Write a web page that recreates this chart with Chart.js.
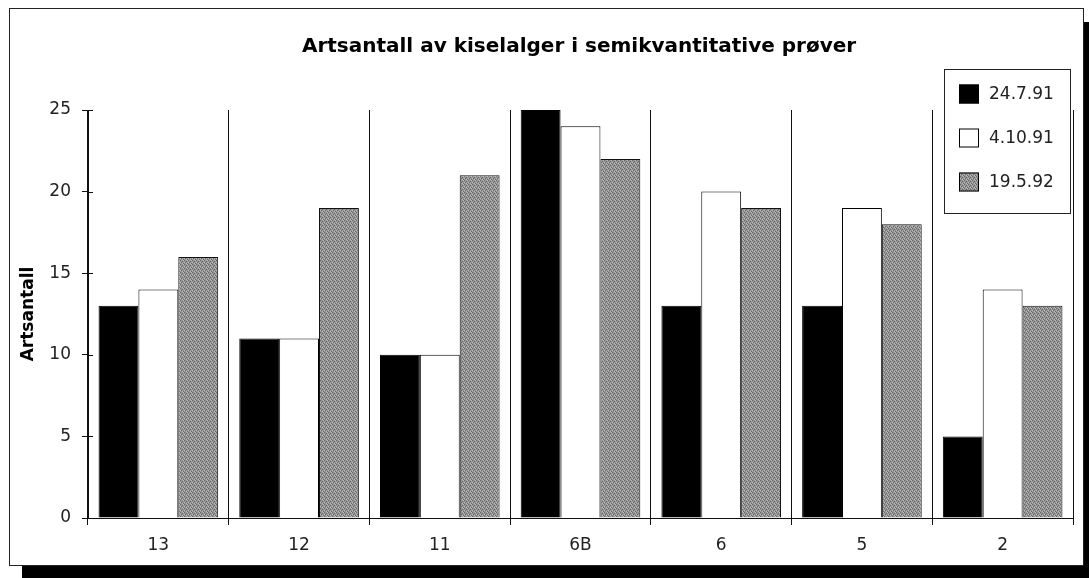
<!DOCTYPE html>
<html>
<head>
<meta charset="utf-8">
<script src="https://cdn.jsdelivr.net/npm/chart.js@4/dist/chart.umd.min.js"></script>
<style>
body { margin: 0; background: #fff; }
#ramme { position: absolute; left: 9px; top: 8px; width: 1075px; height: 558px; box-sizing: border-box; border: 1px solid #222; box-shadow: 13px 14px 0 #000; }
#graf { position: absolute; left: 0; top: 0; }
</style>
</head>
<body>
<div id="ramme"></div>
<canvas id="graf" width="1089" height="578"></canvas>
<script>
const tittel = 'Artsantall av kiselalger i semikvantitative prøver';
const stasjoner = ['13', '12', '11', '6B', '6', '5', '2'];
const datoer = ['24.7.91', '4.10.91', '19.5.92'];
const verdier1 = [13, 11, 10, 25, 13, 13, 5];
const verdier2 = [14, 11, 10, 24, 20, 19, 14];
const verdier3 = [16, 19, 21, 22, 19, 18, 13];
const yTicks = [0, 5, 10, 15, 20, 25];

// grå prikkete fyll, fast mønster
function lagMonster() {
    const p = document.createElement('canvas');
    p.width = 4; p.height = 4;
    const pc = p.getContext('2d');
    pc.fillStyle = '#979797';
    pc.fillRect(0, 0, 4, 4);
    pc.fillStyle = '#666';
    [[0, 0], [2, 1], [1, 2], [3, 3]].forEach(([x, y]) => pc.fillRect(x, y, 1, 1));
    pc.fillStyle = '#bdbdbd';
    [[2, 3], [0, 2], [3, 0]].forEach(([x, y]) => pc.fillRect(x, y, 1, 1));
    return document.getElementById('graf').getContext('2d').createPattern(p, 'repeat');
}
const gra = lagMonster();

const tegnEkstra = {
    id: 'tegnEkstra',
    afterDraw(chart) {
        const c = chart.ctx;
        const y = chart.scales.y;
        c.save();
        // små tikk innenfor aksen
        c.strokeStyle = '#111';
        c.lineWidth = 1;
        y.ticks.forEach(t => {
            const py = Math.round(y.getPixelForValue(t.value)) + 0.5;
            c.beginPath();
            c.moveTo(y.right, py);
            c.lineTo(y.right + 5, py);
            c.stroke();
        });
        // tittel
        c.fillStyle = '#000';
        c.font = 'bold 20px "DejaVu Sans"';
        c.textAlign = 'center';
        c.textBaseline = 'middle';
        c.fillText(tittel, 579, 47);
        // forklaring
        c.fillStyle = '#fff';
        c.fillRect(944, 69, 126, 144);
        c.strokeStyle = '#222';
        c.strokeRect(944.5, 69.5, 126, 144);
        c.font = '17px "DejaVu Sans"';
        c.textAlign = 'left';
        const rader = [94, 138, 182];
        chart.data.datasets.forEach((ds, i) => {
            c.fillStyle = ds.backgroundColor;
            c.fillRect(959, rader[i] - 9.5, 20, 19);
            c.strokeStyle = '#000';
            c.strokeRect(959.5, rader[i] - 9, 19, 18);
            c.fillStyle = '#222';
            c.fillText(ds.label, 989, rader[i] + 1);
        });
        c.restore();
    }
};

new Chart(document.getElementById('graf'), {
    type: 'bar',
    data: {
        labels: stasjoner,
        datasets: [
            { label: datoer[0], data: verdier1, backgroundColor: '#000', borderColor: '#000', borderWidth: 1 },
            { label: datoer[1], data: verdier2, backgroundColor: '#fff', borderColor: '#000', borderWidth: 1 },
            { label: datoer[2], data: verdier3, backgroundColor: gra, borderColor: '#111', borderWidth: 1 }
        ]
    },
    options: {
        responsive: false,
        animation: false,
        layout: { padding: { top: 110, right: 16, left: 0, bottom: 0 } },
        datasets: { bar: { categoryPercentage: 0.85, barPercentage: 1.0 } },
        plugins: {
            legend: { display: false },
            title: { display: false },
            tooltip: { enabled: false }
        },
        scales: {
            x: {
                afterFit: s => { s.height = 60; },
                grid: { color: '#111', lineWidth: 1, tickLength: 7, offset: true, drawOnChartArea: true },
                border: { display: true, color: '#111', width: 1 },
                ticks: { color: '#222', padding: 10, font: { family: 'DejaVu Sans', size: 17 } }
            },
            y: {
                min: 0,
                max: 25,
                afterFit: s => { s.width = 88; },
                afterBuildTicks: s => { s.ticks = yTicks.map(v => ({ value: v })); },
                grid: { drawOnChartArea: false, drawTicks: true, tickLength: 6, color: '#111' },
                border: { display: true, color: '#111', width: 1 },
                ticks: { color: '#222', padding: 11, font: { family: 'DejaVu Sans', size: 17 } },
                title: {
                    display: true,
                    text: 'Artsantall',
                    color: '#000',
                    padding: { top: 18, bottom: 0 },
                    font: { family: 'DejaVu Sans', size: 17, weight: 'bold' }
                }
            }
        }
    },
    plugins: [tegnEkstra]
});
</script>
</body>
</html>
